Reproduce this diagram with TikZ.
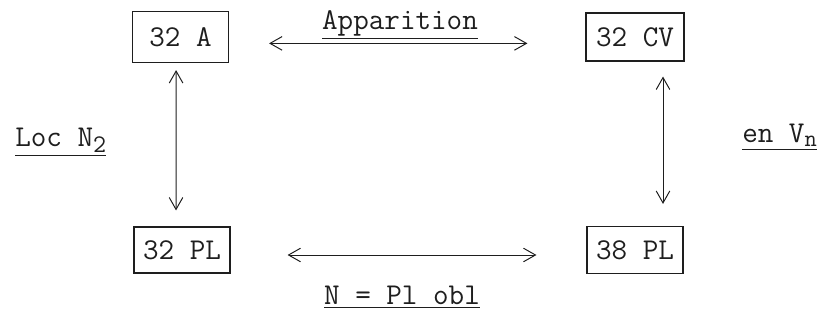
\documentclass[tikz,border=0pt]{standalone}
\usepackage{fontspec}
\usetikzlibrary{arrows.meta,positioning}
\definecolor{inkblack}{RGB}{30,30,30}

\begin{document}
\begin{tikzpicture}[
  font=\ttfamily\fontsize{21.5}{24}\selectfont, >={Straight Barb[length=3mm,width=3.4mm]},
  cell/.style={draw=inkblack,line width=.8pt,minimum width=2.4cm,minimum height=1.2cm,
    inner sep=0pt,text=inkblack},
  arr/.style={<->,line width=.7pt,draw=inkblack},
  lbl/.style={inner sep=0pt,text=inkblack}
]
\useasboundingbox (0,0) rectangle (20.675,8.175);

\node[cell,minimum height=1.275cm] (a32) at (4.5125,7.25) {32 A};
\node[cell,minimum width=2.45cm] (cv32) at (15.875,7.25) {32 CV};
\node[cell,minimum height=1.15cm] (pl32) at (4.55,1.925) {32 PL};
\node[cell,minimum height=1.175cm] (pl38) at (15.875,1.925) {38 PL};

\draw[arr,shorten <=1cm,shorten >=1.45cm]
  ([yshift=-.16cm]a32.east) -- ([yshift=-.16cm]cv32.west);
\draw[arr,shorten <=1.425cm,shorten >=1.25cm]
  ([yshift=-.125cm]pl32.east) -- ([yshift=-.125cm]pl38.west);
\draw[arr,shorten <=.175cm,shorten >=.4cm]
  ([xshift=-.11cm]a32.south) -- ([xshift=-.15cm]pl32.north);
\draw[arr,shorten <=.375cm,shorten >=.55cm]
  ([xshift=.7cm]cv32.south) -- ([xshift=.7cm]pl38.north);

% labels of the four relations
\node[lbl,anchor=base] (appar) at (10.0,7.425) {\underline{Apparition}};
\node[lbl,anchor=base] (plobl) at (10.05,.55) {\underline{N = Pl obl}};
\node[lbl,anchor=base west] (locn) at (.375,4.5)
 {\underline{Loc N\raisebox{-.45ex}{\fontsize{18}{18}\selectfont 2}}};
\node[lbl,anchor=base west] (envn) at (18.55,4.6)
 {\underline{en V\raisebox{-.3ex}{\fontsize{17}{17}\selectfont n}}};
\end{tikzpicture}
\end{document}
